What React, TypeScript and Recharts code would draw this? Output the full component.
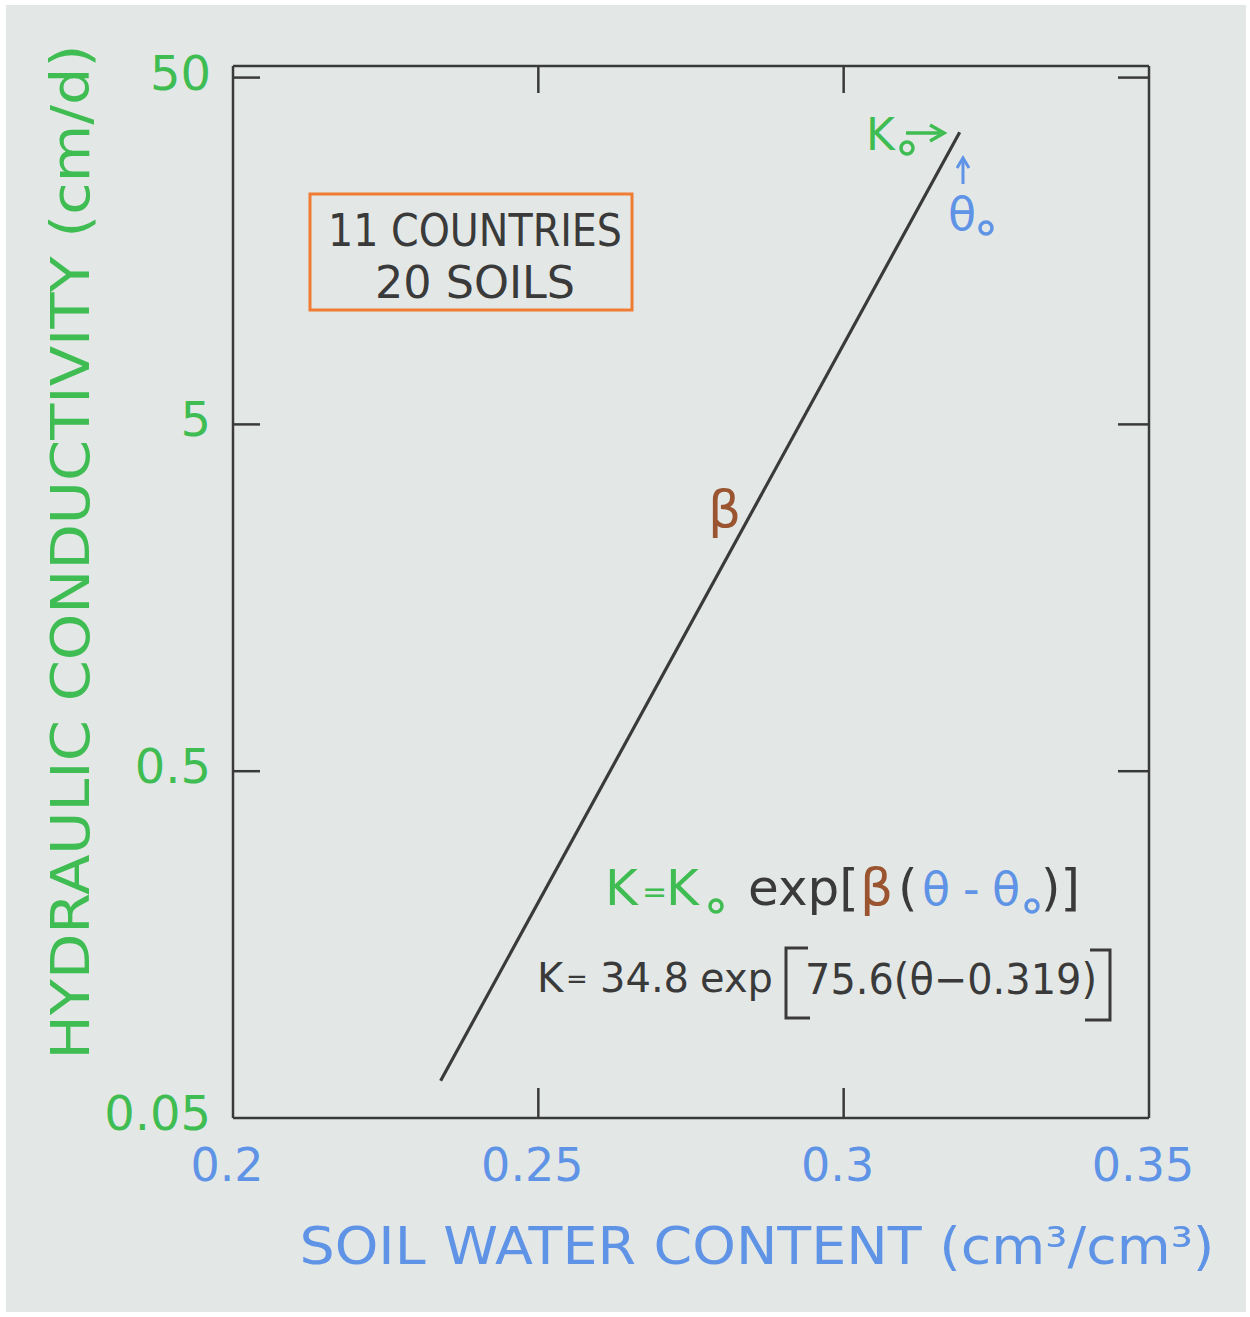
import React from 'react';
import { ComposedChart, Line, XAxis, YAxis, Customized } from 'recharts';

// Fitted relation K = K0 exp[beta (theta - theta0)], drawn as its end points
const thetaValues = [0.234, 0.319];
const conductivityValues = [0.064, 34.8];

const xTicks = [0.2, 0.25, 0.3, 0.35];
const xTickLabels = ['0.2', '0.25', '0.3', '0.35'];
const yTicks = [0.05, 0.5, 5, 50];
const yTickLabels = ['0.05', '0.5', '5', '50'];

const boxLines = ['11 COUNTRIES', '20 SOILS'];

const data = thetaValues.map((theta, i) => ({ theta, k: conductivityValues[i] }));

const INK = '#3a3a3a';
const GREEN = '#3fbd52';
const BLUE = '#5f93e6';
const BROWN = '#9a5530';
const ORANGE = '#f07c34';
const FONT = '"DejaVu Sans", sans-serif';

const W = 1250;
const H = 1317;
const TICK_LEN = 27;

const PLOT_LEFT = 233;
const PLOT_RIGHT = 1149;
const PLOT_TOP = 66;
const PLOT_BOTTOM = 1118;
const LEFT_AXIS_W = 100;
const BOTTOM_AXIS_H = 80;

const LeftTick = (props: any) => {
  const { x, y, payload } = props;
  const i = yTicks.indexOf(payload.value);
  return (
    <g>
      {payload.value !== yTicks[0] && (
        <line x1={x} y1={y} x2={x + TICK_LEN} y2={y} stroke={INK} strokeWidth={2.5} />
      )}
      <text x={x - 22} y={y - 5} textAnchor="end" dominantBaseline="central" fill={GREEN}
        fontSize={48} fontFamily={FONT}>
        {yTickLabels[i]}
      </text>
    </g>
  );
};

const RightTick = (props: any) => {
  const { x, y, payload } = props;
  if (payload.value === yTicks[0]) return <g />;
  return <line x1={x} y1={y} x2={x - TICK_LEN - 4} y2={y} stroke={INK} strokeWidth={2.5} />;
};

const BottomTick = (props: any) => {
  const { x, y, payload } = props;
  const i = xTicks.indexOf(payload.value);
  const inner = i > 0 && i < xTicks.length - 1;
  return (
    <g>
      {inner && <line x1={x} y1={y} x2={x} y2={y - TICK_LEN - 3} stroke={INK} strokeWidth={2.5} />}
      <text x={x - 6} y={y + 47} textAnchor="middle" dominantBaseline="central" fill={BLUE}
        fontSize={46} fontFamily={FONT}>
        {xTickLabels[i]}
      </text>
    </g>
  );
};

const TopTick = (props: any) => {
  const { x, y, payload } = props;
  const i = xTicks.indexOf(payload.value);
  if (i === 0 || i === xTicks.length - 1) return <g />;
  return <line x1={x} y1={y} x2={x} y2={y + TICK_LEN} stroke={INK} strokeWidth={2.5} />;
};

const Sub = ({ x, y, color }: { x: number; y: number; color: string }) => (
  <circle cx={x} cy={y} r={6} fill="none" stroke={color} strokeWidth={3.5} />
);

const Annotations = () => (
  <g fontFamily={FONT}>
    {/* legend box */}
    <rect x={310} y={194} width={322} height={116} fill="none" stroke={ORANGE} strokeWidth={3} />
    <text x={475} y={246} textAnchor="middle" fill={INK} fontSize={44} textLength={294}
      lengthAdjust="spacingAndGlyphs">{boxLines[0]}</text>
    <text x={475} y={298} textAnchor="middle" fill={INK} fontSize={44} textLength={200}
      lengthAdjust="spacingAndGlyphs">{boxLines[1]}</text>

    {/* K0 at the upper end of the line */}
    <text x={866} y={150} fill={GREEN} fontSize={44}>K</text>
    <Sub x={907} y={148} color={GREEN} />
    <line x1={906} y1={133} x2={940} y2={133} stroke={GREEN} strokeWidth={3.5} />
    <path d="M930,125 L944,133 L930,141" fill="none" stroke={GREEN} strokeWidth={3.5} />
    <line x1={963} y1={184} x2={963} y2={160} stroke={BLUE} strokeWidth={3} />
    <path d="M957,168 L963,158 L969,168" fill="none" stroke={BLUE} strokeWidth={3} />
    <text x={948} y={230} fill={BLUE} fontSize={46}>θ</text>
    <Sub x={986} y={228} color={BLUE} />

    {/* slope label */}
    <text x={708} y={527} fill={BROWN} fontSize={52}>β</text>

    {/* general form */}
    <text x={605} y={905} fontSize={50} fill={GREEN}>K</text>
    <text x={642} y={902} fontSize={30} fill={GREEN}>=</text>
    <text x={666} y={905} fontSize={50} fill={GREEN}>K</text>
    <Sub x={716} y={906} color={GREEN} />
    <text x={748} y={905} fontSize={50} fill={INK}>exp[</text>
    <text x={860} y={905} fontSize={52} fill={BROWN}>β</text>
    <text x={898} y={905} fontSize={50} fill={INK}>(</text>
    <text x={922} y={905} fontSize={46} fill={BLUE}>θ</text>
    <text x={963} y={905} fontSize={46} fill={BLUE}>-</text>
    <text x={992} y={905} fontSize={46} fill={BLUE}>θ</text>
    <Sub x={1032} y={906} color={BLUE} />
    <text x={1041} y={905} fontSize={50} fill={INK}>)]</text>

    {/* fitted form */}
    <text x={537} y={992} fontSize={40} fill={INK}>K</text>
    <text x={566} y={988} fontSize={26} fill={INK}>=</text>
    <text x={600} y={992} fontSize={40} fill={INK}>34.8</text>
    <text x={700} y={992} fontSize={40} fill={INK}>exp</text>
    <path d="M808,948 L786,948 L786,1018 L810,1018" fill="none" stroke={INK} strokeWidth={3} />
    <text x={805} y={994} fontSize={42} fill={INK} textLength={292} lengthAdjust="spacingAndGlyphs">
      75.6(θ−0.319)
    </text>
    <path d="M1090,950 L1110,950 L1110,1020 L1085,1020" fill="none" stroke={INK} strokeWidth={3} />

    {/* axis titles */}
    <text transform="translate(70,552) rotate(-90)" textAnchor="middle" dominantBaseline="central"
      fill={GREEN} fontSize={54} textLength={1015} lengthAdjust="spacingAndGlyphs">
      HYDRAULIC CONDUCTIVITY (cm/d)
    </text>
    <text x={757} y={1246} textAnchor="middle" dominantBaseline="central" fill={BLUE}
      fontSize={52} textLength={915} lengthAdjust="spacingAndGlyphs">
      SOIL WATER CONTENT (cm³/cm³)
    </text>
  </g>
);

export default function App() {
  return (
    <div style={{ position: 'absolute', left: 0, top: 0, width: W, height: H, background: '#ffffff' }}>
      <div style={{ position: 'absolute', left: 6, top: 5, width: W - 10, height: H - 10, background: '#e3e8e7' }} />
      <div style={{ position: 'absolute', left: 0, top: 0 }}>
        <ComposedChart width={W} height={H} data={data}
          margin={{
            top: PLOT_TOP - 1,
            left: PLOT_LEFT - LEFT_AXIS_W,
            right: W - PLOT_RIGHT - 1,
            bottom: H - PLOT_BOTTOM - BOTTOM_AXIS_H,
          }}>
          <XAxis xAxisId="bottom" dataKey="theta" type="number" domain={[0.2, 0.35]} ticks={xTicks}
            height={BOTTOM_AXIS_H} tickSize={0} tickMargin={0} tickLine={false}
            axisLine={{ stroke: INK, strokeWidth: 2.5 }} tick={<BottomTick />} interval={0} />
          <XAxis xAxisId="top" orientation="top" dataKey="theta" type="number" domain={[0.2, 0.35]}
            ticks={xTicks} height={1} tickSize={0} tickMargin={0} tickLine={false}
            axisLine={{ stroke: INK, strokeWidth: 2.5 }} tick={<TopTick />} interval={0} />
          <YAxis yAxisId="left" scale="log" domain={[0.05, 54]} allowDataOverflow ticks={yTicks}
            width={LEFT_AXIS_W} tickSize={0} tickMargin={0} tickLine={false}
            axisLine={{ stroke: INK, strokeWidth: 2.5 }} tick={<LeftTick />} interval={0} />
          <YAxis yAxisId="right" orientation="right" scale="log" domain={[0.05, 54]} allowDataOverflow
            ticks={yTicks} width={1} tickSize={0} tickMargin={0} tickLine={false}
            axisLine={{ stroke: INK, strokeWidth: 2.5 }} tick={<RightTick />} interval={0} />
          <Line xAxisId="bottom" yAxisId="left" dataKey="k" stroke={INK} strokeWidth={3.2}
            dot={false} isAnimationActive={false} />
          <Customized component={Annotations} />
        </ComposedChart>
      </div>
    </div>
  );
}
